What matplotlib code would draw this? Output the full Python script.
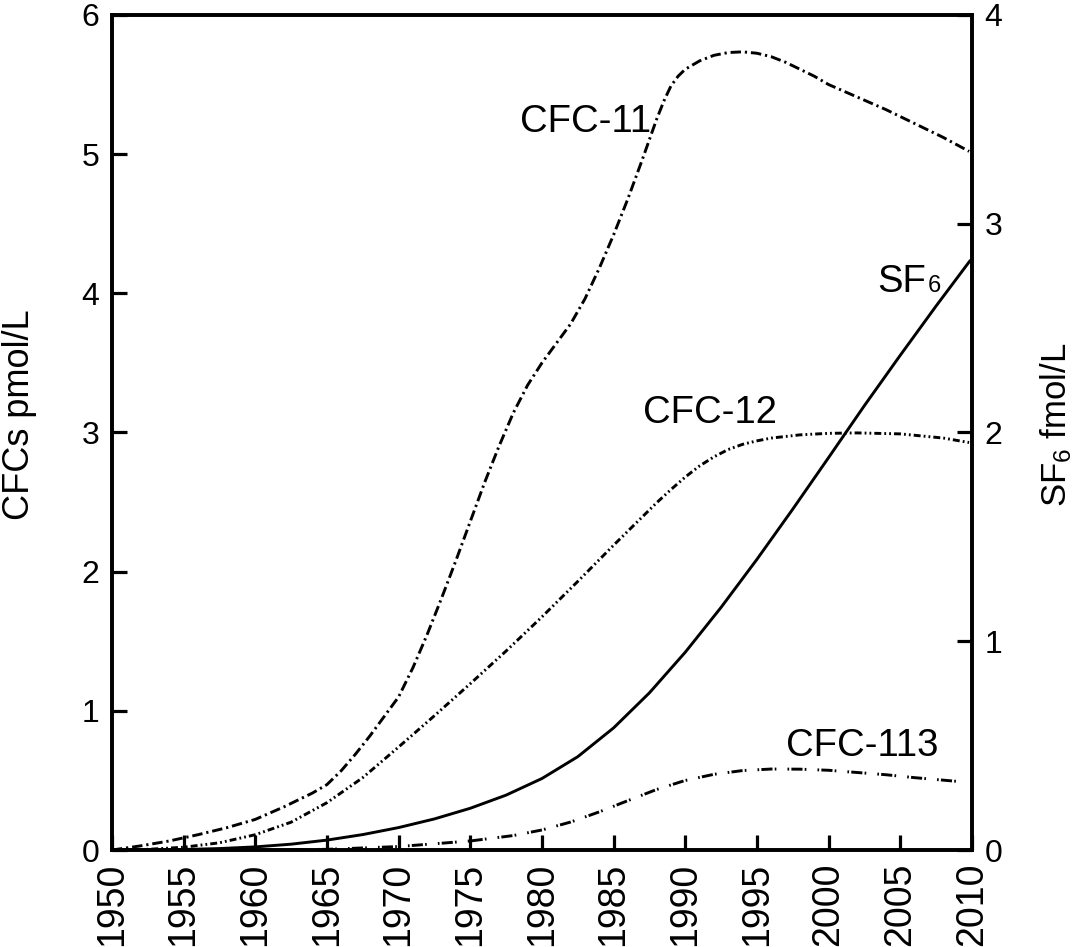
import matplotlib
matplotlib.use("Agg")
import matplotlib.pyplot as plt

plt.rcParams['font.family'] = ['Liberation Sans', 'DejaVu Sans']
plt.rcParams['mathtext.fontset'] = 'custom'
plt.rcParams['mathtext.rm'] = 'Liberation Sans'
plt.rcParams['mathtext.it'] = 'Liberation Sans'
plt.rcParams['lines.scale_dashes'] = False

# ---- data ----
cfc11_years = [1950, 1952, 1954, 1956, 1958, 1960, 1962, 1964, 1965, 1966, 1967, 1968,
               1969, 1970, 1971, 1972, 1973, 1974, 1975, 1976, 1977, 1978, 1979, 1980,
               1981, 1982, 1983, 1984, 1985, 1986, 1987, 1988, 1988.5, 1989, 1989.5,
               1990, 1991, 1992, 1993, 1994, 1995, 1996, 1997, 1998, 1999, 2000, 2002,
               2004, 2006, 2008, 2009.8]
cfc11_vals = [0.0, 0.03, 0.065, 0.11, 0.16, 0.22, 0.31, 0.41, 0.47, 0.57, 0.69, 0.82,
              0.96, 1.1, 1.31, 1.55, 1.81, 2.08, 2.36, 2.64, 2.9, 3.14, 3.34, 3.5,
              3.64, 3.78, 3.96, 4.18, 4.42, 4.68, 4.96, 5.25, 5.38, 5.49, 5.56,
              5.61, 5.67, 5.71, 5.73, 5.735, 5.725, 5.70, 5.66, 5.61, 5.56, 5.50, 5.41,
              5.32, 5.22, 5.12, 5.02]

cfc12_years = [1950, 1952.5, 1955, 1957.5, 1960, 1962.5, 1965, 1967.5, 1970, 1972.5,
               1975, 1977.5, 1980, 1982.5, 1985, 1988, 1989, 1990, 1991, 1992, 1993,
               1994, 1995, 1996, 1998, 2000, 2002, 2005, 2008, 2009.8]
cfc12_vals = [0.0, 0.005, 0.02, 0.052, 0.11, 0.20, 0.34, 0.52, 0.74, 0.965,
              1.195, 1.43, 1.675, 1.93, 2.19, 2.495, 2.59, 2.68, 2.76, 2.825, 2.878,
              2.915, 2.94, 2.96, 2.983, 2.994, 2.997, 2.99, 2.96, 2.928]

cfc113_years = [1950, 1960, 1965, 1970, 1975, 1978, 1980, 1982, 1984, 1986, 1988, 1990,
                1992, 1994, 1996, 1998, 2000, 2004, 2006, 2009]
cfc113_vals = [0.0, 0.0, 0.005, 0.025, 0.065, 0.104, 0.144, 0.201, 0.274, 0.355, 0.435,
               0.50, 0.544, 0.571, 0.582, 0.581, 0.573, 0.541, 0.52, 0.493]

sf6_years = [1950, 1952.5, 1955, 1957.5, 1960, 1962.5, 1965, 1967.5, 1970, 1972.5,
             1975, 1977.5, 1980, 1982.5, 1985, 1987.5, 1990, 1992.5, 1995, 1997.5,
             2000, 2002.5, 2005, 2007.5, 2009.9]
sf6_vals = [0.0, 0.0006, 0.0025, 0.007, 0.015, 0.028, 0.0475, 0.074, 0.1075, 0.149,
            0.20, 0.263, 0.3425, 0.447, 0.585, 0.753, 0.9475, 1.1625, 1.3925, 1.633,
            1.88, 2.129, 2.37, 2.606, 2.826]

x_ticks = list(range(1950, 2011, 5))
left_ticks = [0, 1, 2, 3, 4, 5, 6]
right_ticks = [0, 1, 2, 3, 4]

# ---- figure ----
fig = plt.figure(figsize=(10.76, 9.47), dpi=100)
ax = fig.add_axes([0.104, 0.1024, 0.7993, 0.8818])
ax2 = ax.twinx()

lw = 2.1
l11, = ax.plot(cfc11_years, cfc11_vals, color='black', lw=lw)
l11.set_dashes([7.5, 2.8, 1.6, 2.8])
l12, = ax.plot(cfc12_years, cfc12_vals, color='black', lw=lw)
l12.set_dashes([5, 2.2, 1.3, 2.2, 1.3, 2.2])
l113, = ax.plot(cfc113_years, cfc113_vals, color='black', lw=lw)
l113.set_dashes([8, 1.6, 1.2, 8, 1.2, 1.6])
ax2.plot(sf6_years, sf6_vals, color='black', lw=lw, solid_capstyle='butt')

ax.set_xlim(1950, 2010)
ax.set_ylim(0, 6)
ax2.set_ylim(0, 4)

ax.set_xticks(x_ticks)
ax.set_xticklabels([str(t) for t in x_ticks], rotation=90, fontsize=27)
ax.set_yticks(left_ticks)
ax.set_yticklabels([str(t) for t in left_ticks], fontsize=23)
ax2.set_yticks(right_ticks)
ax2.set_yticklabels([str(t) for t in right_ticks], fontsize=23)

ax.tick_params(axis='x', direction='in', length=11, width=2.3, pad=9, top=False)
ax.tick_params(axis='y', direction='in', length=11, width=2.3, pad=9, right=False)
ax2.tick_params(axis='y', direction='in', length=11, width=2.3, pad=9)

for a in (ax, ax2):
    for s in a.spines.values():
        s.set_linewidth(2.6)

ax.set_ylabel('CFCs pmol/L', fontsize=26)
ax.yaxis.set_label_coords(-0.087, 0.521)
ax2.set_ylabel('SF$_\\mathrm{6}$ fmol/L', fontsize=25)
ax2.yaxis.set_label_coords(1.077, 0.509)

# curve labels
ax.text(1978.5, 5.16, 'CFC-11', fontsize=27.5, ha='left', va='baseline')
ax.text(1987.05, 3.07, 'CFC-12', fontsize=27.5, ha='left', va='baseline')
ax.text(1997.0, 0.675, 'CFC-113', fontsize=27.5, ha='left', va='baseline')
t_sf = ax.text(2003.4, 4.01, 'SF', fontsize=27.5, ha='left', va='baseline')
ax.annotate('6', xy=(1, 0), xycoords=t_sf, xytext=(1, 2), textcoords='offset points',
            fontsize=17, ha='left', va='bottom')

fig.savefig('out.png', dpi=100)
